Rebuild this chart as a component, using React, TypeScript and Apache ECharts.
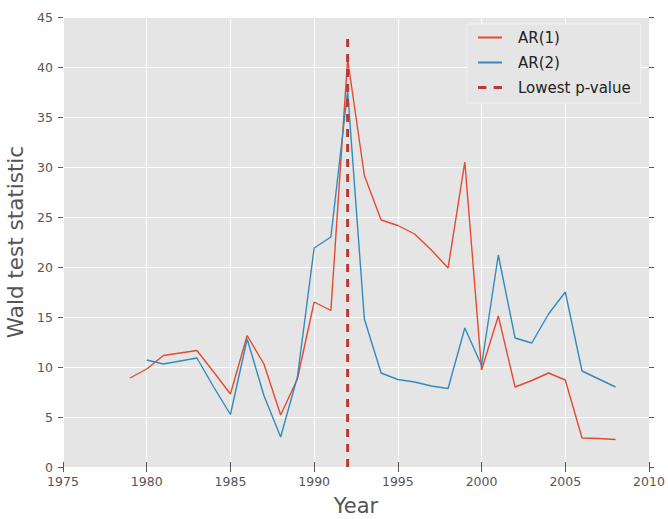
import React, { useEffect, useRef } from "react";
import * as echarts from "echarts";

const years1 = [1979, 1980, 1981, 1982, 1983, 1984, 1985, 1986, 1987, 1988, 1989, 1990, 1991, 1992, 1993, 1994, 1995, 1996, 1997, 1998, 1999, 2000, 2001, 2002, 2003, 2004, 2005, 2006, 2007, 2008];
const ar1 = [8.9, 9.8, 11.15, 11.4, 11.65, 9.5, 7.3, 13.15, 10.3, 5.2, 8.8, 16.5, 15.65, 40.8, 29.15, 24.7, 24.15, 23.3, 21.7, 19.9, 30.5, 9.7, 15.1, 8.0, 8.65, 9.4, 8.7, 2.9, 2.85, 2.75];
const years2 = [1980, 1981, 1982, 1983, 1984, 1985, 1986, 1987, 1988, 1989, 1990, 1991, 1992, 1993, 1994, 1995, 1996, 1997, 1998, 1999, 2000, 2001, 2002, 2003, 2004, 2005, 2006, 2007, 2008];
const ar2 = [10.7, 10.3, 10.6, 10.9, 8.0, 5.25, 12.8, 7.15, 3.0, 9.0, 21.9, 23.0, 37.6, 14.8, 9.4, 8.75, 8.5, 8.1, 7.85, 13.9, 10.15, 21.2, 12.9, 12.4, 15.3, 17.5, 9.6, 8.8, 8.0];
const lowestYear = 1992;
const lowestLineSpan = [0, 43.3];
const legendNames = ["AR(1)", "AR(2)", "Lowest p-value"];
const xTicks = { min: 1975, max: 2010, interval: 5 };
const yTicks = { min: 0, max: 45, interval: 5 };

const SOLID_ICON = "path://M0,0 L24,0 L24,2 L0,2 Z";
const DASH_ICON = "path://M0,0 L8,0 L8,3 L0,3 Z M15,0 L23,0 L23,3 L15,3 Z";

export default function App() {
  const ref = useRef<HTMLDivElement>(null);
  useEffect(() => {
    if (!ref.current) return;
    const chart = echarts.init(ref.current, null, { renderer: "svg" });
    const font = "'DejaVu Sans', sans-serif";
    const tick = { show: true, length: 5, inside: false, lineStyle: { color: "#555", width: 1 } };
    chart.setOption({
      animation: false,
      backgroundColor: "#ffffff",
      grid: {
        left: 63,
        right: 19,
        top: 17,
        bottom: 52,
        containLabel: false,
        outerBoundsMode: "none",
        backgroundColor: "#e5e5e5",
        show: true,
        borderWidth: 0,
      },
      legend: {
        orient: "vertical",
        left: 467,
        top: 24,
        padding: [6, 10, 8, 11],
        itemGap: 10,
        itemWidth: 24,
        itemHeight: 15,
        backgroundColor: "#e5e5e5",
        borderColor: "#f2f2f2",
        borderWidth: 1,
        textStyle: { fontFamily: font, fontSize: 15, color: "#222", padding: [0, 0, 0, 11] },
        data: [
          { name: legendNames[0], icon: SOLID_ICON },
          { name: legendNames[1], icon: SOLID_ICON },
          { name: legendNames[2], icon: DASH_ICON },
        ],
      },
      xAxis: [
        {
          type: "value",
          ...xTicks,
          name: "Year",
          nameLocation: "middle",
          nameGap: 28,
          nameTextStyle: { fontFamily: font, fontSize: 21, color: "#555" },
          axisLine: { show: false },
          axisTick: tick,
          axisLabel: { fontFamily: font, fontSize: 12.5, color: "#555", margin: 8, formatter: (v: number) => String(v) },
          splitLine: { show: true, lineStyle: { color: "#ffffff", width: 1 } },
        },
        {
          type: "value",
          ...xTicks,
          position: "top",
          axisLine: { show: false },
          axisTick: tick,
          axisLabel: { show: false },
          splitLine: { show: false },
        },
      ],
      yAxis: [
        {
          type: "value",
          ...yTicks,
          name: "Wald test statistic",
          nameLocation: "middle",
          nameGap: 32,
          nameTextStyle: { fontFamily: font, fontSize: 21.5, color: "#555" },
          axisLine: { show: false },
          axisTick: tick,
          axisLabel: { fontFamily: font, fontSize: 12.5, color: "#555", margin: 10 },
          splitLine: { show: true, lineStyle: { color: "#ffffff", width: 1 } },
        },
        {
          type: "value",
          ...yTicks,
          position: "right",
          axisLine: { show: false },
          axisTick: tick,
          axisLabel: { show: false },
          splitLine: { show: false },
        },
      ],
      series: [
        {
          name: legendNames[0],
          type: "line",
          data: years1.map((y, i) => [y, ar1[i]]),
          symbol: "none",
          color: "#E24A33",
          lineStyle: { color: "#E24A33", width: 1.4 },
        },
        {
          name: legendNames[1],
          type: "line",
          data: years2.map((y, i) => [y, ar2[i]]),
          symbol: "none",
          color: "#348ABD",
          lineStyle: { color: "#348ABD", width: 1.4 },
        },
        {
          name: legendNames[2],
          type: "line",
          data: lowestLineSpan.map((v) => [lowestYear, v]),
          symbol: "none",
          color: "#B93A32",
          lineStyle: { color: "#B93A32", width: 3, type: [8, 7] },
        },
      ],
    });
    return () => chart.dispose();
  }, []);
  return <div ref={ref} style={{ width: 668, height: 519, position: "absolute", left: 0, top: 0 }} />;
}
